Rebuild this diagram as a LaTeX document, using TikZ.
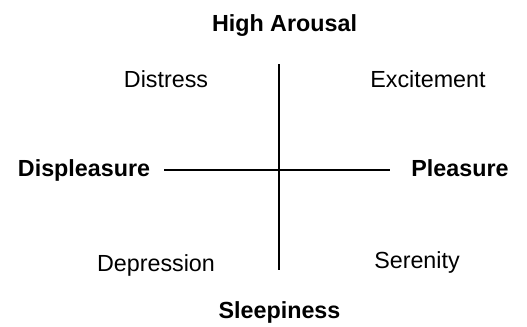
\documentclass[tikz,border=0pt]{standalone}
\usepackage{fontspec}
\setmainfont{Liberation Sans}
\begin{document}
\begin{tikzpicture}[x=1bp,y=-1bp,
  lab/.style={anchor=base,inner sep=0pt,font=\fontsize{23.3bp}{28bp}\selectfont},
  blab/.style={lab,font=\fontsize{23.3bp}{28bp}\selectfont\bfseries},
  axis/.style={line width=1.6bp}]
\useasboundingbox (0,0) rectangle (527,326);
\node[blab] (top) at (284.5,31.5) {High Arousal};
\node[lab] (tl) at (166,87) {Distress};
\node[lab] (tr) at (428,87) {Excitement};
\node[blab] (left) at (84,176) {Displeasure};
\node[blab] (right) at (460,176) {Pleasure};
\node[lab] (bl) at (156,271) {Depression};
\node[lab] (br) at (417,268) {Serenity};
\node[blab] (bottom) at (279.5,318) {Sleepiness};
\coordinate (vt) at (279,64);
\coordinate (vb) at (279,270);
\coordinate (hl) at (164,170);
\coordinate (hr) at (390,170);
\draw[axis] (vt) -- (vb);
\draw[axis] (hl) -- (hr);
\end{tikzpicture}
\end{document}
